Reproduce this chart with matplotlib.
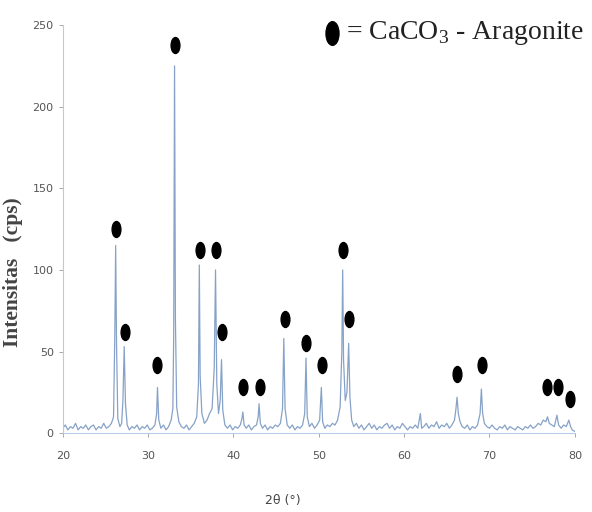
import matplotlib.pyplot as plt
from matplotlib.path import Path
from matplotlib.lines import Line2D
import numpy as np

plt.rcParams['mathtext.fontset'] = 'custom'
plt.rcParams['mathtext.rm'] = 'Liberation Serif'

# XRD pattern (2theta in degrees, intensity in cps)
two_theta = [20.0, 20.3, 20.6, 20.9, 21.2, 21.5, 21.8, 22.1, 22.4, 22.7, 23.0, 23.3, 23.6, 23.9,
             24.2, 24.5, 24.8, 25.1, 25.4, 25.7, 25.95, 26.1, 26.2, 26.3, 26.45, 26.7, 26.9,
             27.05, 27.2, 27.35, 27.55, 27.8, 28.1, 28.4, 28.7, 29.0, 29.3, 29.6, 29.9, 30.2,
             30.5, 30.8, 31.0, 31.1, 31.25, 31.5, 31.8, 32.1, 32.4, 32.7, 32.9, 33.0, 33.1,
             33.2, 33.35, 33.6, 33.9, 34.2, 34.5, 34.8, 35.1, 35.4, 35.7, 35.9, 36.0, 36.1,
             36.3, 36.6, 36.9, 37.2, 37.5, 37.75, 37.9, 38.05, 38.25, 38.45, 38.6, 38.75, 39.0,
             39.3, 39.6, 39.9, 40.2, 40.5, 40.8, 41.0, 41.1, 41.25, 41.5, 41.8, 42.1, 42.4,
             42.7, 42.9, 43.0, 43.15, 43.4, 43.7, 44.0, 44.3, 44.6, 44.9, 45.2, 45.5, 45.75,
             45.9, 46.05, 46.3, 46.6, 46.9, 47.2, 47.5, 47.8, 48.1, 48.35, 48.5, 48.65, 48.9,
             49.2, 49.5, 49.8, 50.1, 50.3, 50.45, 50.7, 51.0, 51.3, 51.6, 51.9, 52.2, 52.5,
             52.7, 52.8, 52.9, 53.1, 53.3, 53.5, 53.65, 53.85, 54.1, 54.4, 54.7, 55.0, 55.3,
             55.6, 55.9, 56.2, 56.5, 56.8, 57.1, 57.4, 57.7, 58.0, 58.3, 58.6, 58.9, 59.2,
             59.5, 59.8, 60.1, 60.4, 60.7, 61.0, 61.3, 61.6, 61.9, 62.05, 62.3, 62.6, 62.9,
             63.2, 63.5, 63.8, 64.1, 64.4, 64.7, 65.0, 65.3, 65.6, 65.9, 66.05, 66.2, 66.35,
             66.55, 66.8, 67.1, 67.4, 67.7, 68.0, 68.3, 68.6, 68.9, 69.05, 69.2, 69.4, 69.7,
             70.0, 70.3, 70.6, 70.9, 71.2, 71.5, 71.8, 72.1, 72.4, 72.7, 73.0, 73.3, 73.6,
             73.9, 74.2, 74.5, 74.8, 75.1, 75.4, 75.7, 76.0, 76.3, 76.6, 76.8, 77.0, 77.3,
             77.6, 77.9, 78.1, 78.4, 78.7, 79.0, 79.3, 79.5, 79.7, 80.0]
intensity = [3, 5, 2, 4, 3, 6, 2, 4, 3, 5, 2, 4, 5, 2,
             4, 3, 6, 3, 4, 6, 10, 60, 115, 55, 9, 4, 6,
             20, 53, 18, 5, 2, 4, 3, 5, 2, 4, 3, 5, 2,
             3, 5, 12, 28, 8, 3, 5, 2, 4, 8, 15, 60, 225,
             70, 16, 7, 4, 3, 5, 2, 4, 6, 10, 30, 103, 35,
             12, 6, 8, 12, 15, 40, 100, 30, 12, 20, 45, 14, 5,
             3, 5, 2, 4, 3, 5, 9, 13, 5, 3, 5, 2, 4,
             5, 10, 18, 6, 3, 5, 2, 4, 3, 5, 4, 6, 15,
             58, 15, 5, 3, 5, 2, 4, 3, 5, 12, 46, 10, 4,
             6, 3, 5, 8, 28, 7, 3, 5, 4, 6, 5, 8, 16,
             50, 100, 45, 20, 25, 55, 22, 8, 4, 6, 3, 5, 2,
             4, 6, 3, 5, 2, 4, 3, 5, 6, 3, 5, 2, 4,
             3, 6, 4, 2, 4, 3, 5, 3, 12, 3, 4, 6, 3,
             5, 4, 7, 3, 5, 4, 6, 3, 5, 8, 14, 22, 12,
             7, 4, 3, 5, 2, 4, 3, 5, 12, 27, 12, 6, 4,
             3, 5, 3, 2, 4, 3, 5, 2, 4, 3, 2, 4, 3,
             2, 4, 3, 5, 3, 4, 6, 5, 8, 7, 10, 6, 5,
             4, 11, 5, 3, 5, 4, 8, 4, 2, 1]

# aragonite peak markers
marker_x = [26.2, 27.3, 31.1, 33.2, 36.1, 37.9, 38.7, 41.1, 43.1, 46.0, 48.5, 50.4,
            52.8, 53.5, 66.2, 69.1, 76.7, 78.0, 79.4]
marker_y = [125, 62, 42, 238, 112, 112, 62, 28, 28, 70, 55, 42,
            112, 70, 36, 42, 28, 28, 21]

# vertical ellipse marker
circ = Path.unit_circle()
ellipse = Path(circ.vertices * np.array([0.55, 1.0]), circ.codes)

fig = plt.figure(figsize=(5.92, 5.12), dpi=100)
ax = fig.add_axes([0.106, 0.154, 0.865, 0.797])

ax.plot(two_theta, intensity, color='#86a2c8', linewidth=0.9)
ax.plot(marker_x, marker_y, linestyle='none', marker=ellipse, markersize=11.5,
        color='black')

ax.set_xlim(20, 80)
ax.set_ylim(0, 250)
ax.set_xticks(range(20, 81, 10))
ax.set_yticks(range(0, 251, 50))

for side in ['top', 'right']:
    ax.spines[side].set_visible(False)
ax.spines['left'].set_color('#c8c8c8')
ax.spines['bottom'].set_color('#b9cde6')
ax.tick_params(colors='#9a9a9a', labelsize=8, length=3, width=0.6)
ax.tick_params(axis='x', pad=10)
for lab in ax.get_xticklabels() + ax.get_yticklabels():
    lab.set_family(['Liberation Sans Narrow', 'DejaVu Sans'])
    lab.set_color('#555555')

ax.set_ylabel('Intensitas   (cps)', family='Liberation Serif', fontweight='bold',
              fontsize=15.5, color='#444444')
ax.yaxis.set_label_coords(-0.078, 0.395)
ax.set_xlabel('2θ (°)', family=['Liberation Sans Narrow', 'DejaVu Sans'],
              fontsize=9, color='#444444')
ax.xaxis.set_label_coords(0.43, -0.15)

# legend at the top right
fig.add_artist(Line2D([0.561], [0.935], transform=fig.transFigure, linestyle='none',
                      marker=ellipse, markersize=17, color='black'))
fig.text(0.585, 0.935, '= CaCO$_3$ - Aragonite', fontsize=20, family='Liberation Serif',
         va='center', ha='left', color='#222222')

plt.savefig('out.png', dpi=100)
